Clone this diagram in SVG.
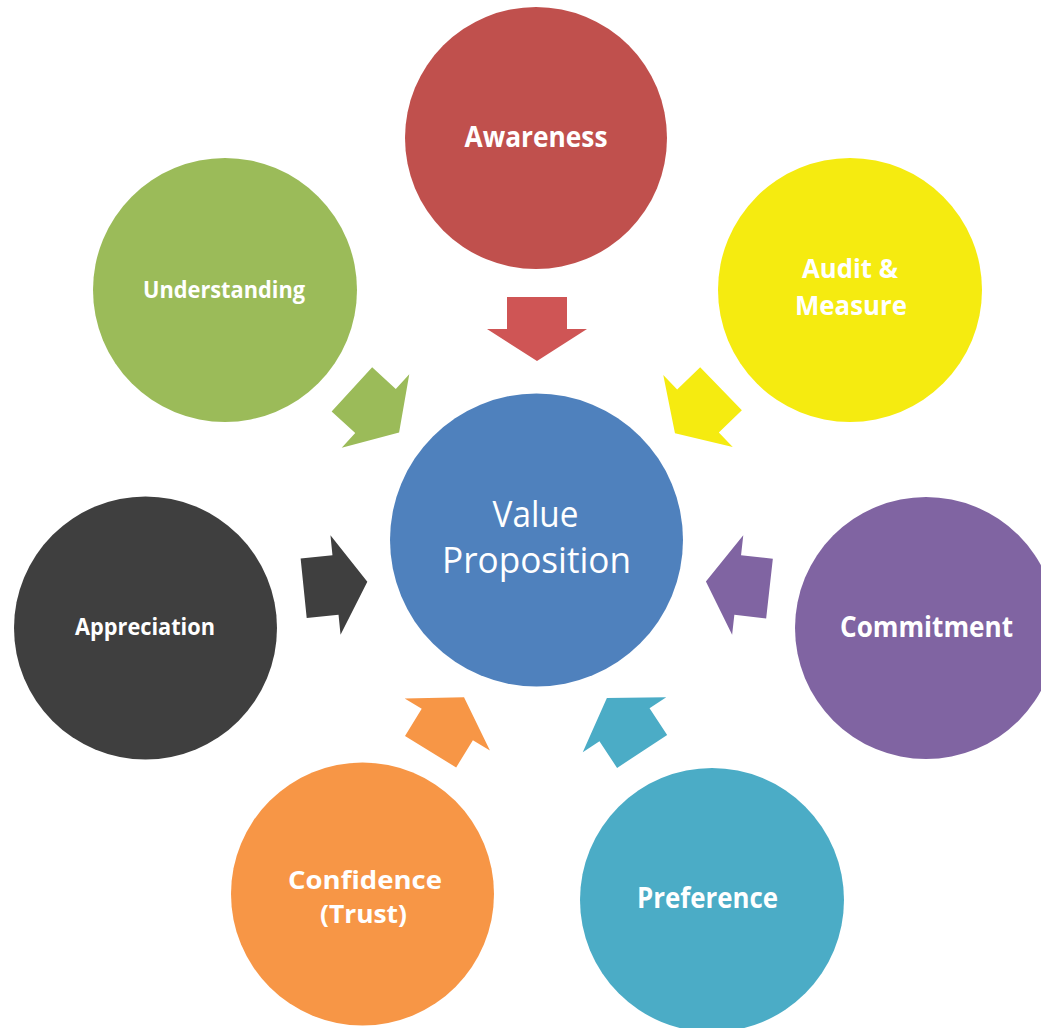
<svg xmlns="http://www.w3.org/2000/svg" width="1041" height="1028" viewBox="0 0 1041 1028">
  <defs>
    <style>
      .lbl { font-family: "Open Sans", "Noto Sans", sans-serif; font-weight: bold; fill: #ffffff; text-anchor: middle; }
      .core { font-family: "Open Sans", "Noto Sans", sans-serif; font-weight: normal; fill: #ffffff; text-anchor: middle; font-size: 36px; }
    </style>
    <!-- block arrow pointing along +x, centred on the origin -->
    <path id="blockArrow" d="M-32,-30 L0,-30 L0,-50 L32,0 L0,50 L0,30 L-32,30 Z"/>
  </defs>

  <rect width="1041" height="1028" fill="#ffffff"/>

  <!-- connectors: block arrows pointing to the core -->
  <g id="connectors">
    <use href="#blockArrow" fill="#CF5555" transform="translate(537,329) rotate(90)"/>
    <use href="#blockArrow" fill="#9BBB59" transform="translate(375.5,411) rotate(42.5)"/>
    <use href="#blockArrow" fill="#F5EB10" transform="translate(698,411) rotate(136)"/>
    <use href="#blockArrow" fill="#3F3F3F" transform="translate(335.5,585) rotate(-5.8)"/>
    <use href="#blockArrow" fill="#8064A2" transform="translate(737.7,585) rotate(186.4)"/>
    <use href="#blockArrow" fill="#F79646" transform="translate(447.3,724.5) rotate(-58.5)"/>
    <use href="#blockArrow" fill="#4BACC6" transform="translate(624.5,724.7) rotate(-123.4)"/>
  </g>

  <g id="awareness">
    <circle cx="536" cy="138" r="131" fill="#C0504D"/>
    <text class="lbl" x="536" y="147" font-size="28" textLength="143" lengthAdjust="spacingAndGlyphs">Awareness</text>
  </g>

  <g id="understanding">
    <circle cx="225" cy="290" r="132" fill="#9BBB59"/>
    <text class="lbl" x="224" y="298" font-size="23.5" textLength="162" lengthAdjust="spacingAndGlyphs">Understanding</text>
  </g>

  <g id="audit-measure">
    <circle cx="850" cy="290" r="132" fill="#F5EB10"/>
    <text class="lbl" x="850" y="278" font-size="27" textLength="96" lengthAdjust="spacingAndGlyphs">Audit &amp;</text>
    <text class="lbl" x="851" y="315" font-size="27" textLength="112" lengthAdjust="spacingAndGlyphs">Measure</text>
  </g>

  <g id="appreciation">
    <circle cx="145.5" cy="628" r="131.5" fill="#3F3F3F"/>
    <text class="lbl" x="145" y="635" font-size="23.5" textLength="140" lengthAdjust="spacingAndGlyphs">Appreciation</text>
  </g>

  <g id="commitment">
    <circle cx="926" cy="628" r="131" fill="#8064A2"/>
    <text class="lbl" x="926.5" y="637" font-size="28" textLength="173" lengthAdjust="spacingAndGlyphs">Commitment</text>
  </g>

  <g id="confidence">
    <circle cx="362.5" cy="894" r="131.5" fill="#F79646"/>
    <text class="lbl" x="365" y="889" font-size="25" textLength="154" lengthAdjust="spacingAndGlyphs">Confidence</text>
    <text class="lbl" x="363.5" y="923" font-size="25" textLength="87" lengthAdjust="spacingAndGlyphs">(Trust)</text>
  </g>

  <g id="preference">
    <circle cx="712" cy="900" r="132" fill="#4BACC6"/>
    <text class="lbl" x="707.5" y="908" font-size="28" textLength="141" lengthAdjust="spacingAndGlyphs">Preference</text>
  </g>

  <g id="value-proposition">
    <circle cx="536.5" cy="540" r="146.5" fill="#4F81BD"/>
    <text class="core" x="535.5" y="527" textLength="86" lengthAdjust="spacingAndGlyphs">Value</text>
    <text class="core" x="536.5" y="573" textLength="189" lengthAdjust="spacingAndGlyphs">Proposition</text>
  </g>
</svg>
